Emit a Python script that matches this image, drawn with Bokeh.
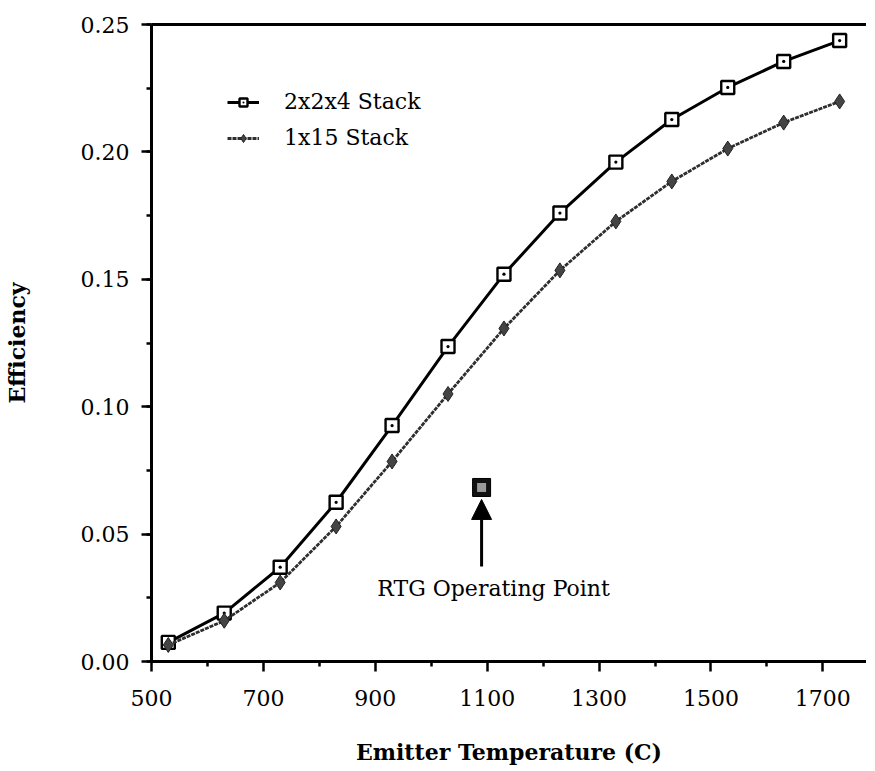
from bokeh.plotting import figure
from bokeh.models import (Range1d, FixedTicker, SingleIntervalTicker, PrintfTickFormatter,
                          LinearAxis, Legend, LegendItem, Arrow, NormalHead, Label)
from bokeh.embed import file_html
from bokeh.resources import INLINE

# ---- data ----
temps = [530, 630, 730, 830, 930, 1030, 1130, 1230, 1330, 1430, 1530, 1630, 1730]
eff_2x2x4 = [0.0075, 0.019, 0.037, 0.0625, 0.0926, 0.1236, 0.152, 0.176, 0.196, 0.2127, 0.2253, 0.2355, 0.2437]
eff_1x15 = [0.0065, 0.016, 0.031, 0.053, 0.0785, 0.105, 0.1307, 0.1535, 0.1727, 0.1884, 0.2013, 0.2115, 0.2198]
rtg_temp = [1090]
rtg_eff = [0.0683]
x_major_ticks = [500, 700, 900, 1100, 1300, 1500, 1700]
x_minor_ticks = [600, 800, 1000, 1200, 1400, 1600]
series_labels = ["2x2x4 Stack", "1x15 Stack"]
annotation_text = "RTG Operating Point"

FONT = "DejaVu Serif"

p = figure(frame_width=715, frame_height=637, output_backend="svg", toolbar_location=None,
           x_range=Range1d(500, 1778), y_range=Range1d(0, 0.25),
           min_border_left=0, min_border_top=24, min_border_bottom=0, min_border_right=0,
           background_fill_color="white", border_fill_color="white")
p.outline_line_color = None
p.grid.visible = False

l1 = p.line(temps, eff_2x2x4, line_color="black", line_width=3)
s1 = p.scatter(temps, eff_2x2x4, marker="square_dot", size=13, fill_color="white",
               line_color="black", line_width=2.4)
l2 = p.line(temps, eff_1x15, line_color="#2e2e2e", line_width=2.8, line_dash="4 1")
s2 = p.scatter(temps, eff_1x15, marker="diamond", size=15, fill_color="#444444",
               line_color="#222222", line_width=1)

# RTG operating point
p.scatter(rtg_temp, rtg_eff, marker="square", size=18, fill_color="#111111", line_color="black")
p.scatter(rtg_temp, rtg_eff, marker="square", size=9, fill_color="#9a9a9a", line_color=None)

arrow_tail = rtg_eff[0] - 0.0310
arrow_tip = rtg_eff[0] - 0.0047
p.add_layout(Arrow(end=NormalHead(size=20, fill_color="black", line_color="black"),
                   x_start=rtg_temp[0], y_start=arrow_tail, x_end=rtg_temp[0], y_end=arrow_tip,
                   line_color="black", line_width=3))
p.add_layout(Label(x=rtg_temp[0], y=rtg_eff[0] - 0.0396, text=annotation_text, x_offset=12,
                   text_align="center", text_baseline="middle", text_font=FONT,
                   text_font_size="22px", text_color="black"))

# axes
xa = p.xaxis[0]
xa.ticker = FixedTicker(ticks=x_major_ticks, minor_ticks=x_minor_ticks)
xa.axis_label = "Emitter Temperature (C)"
ya = p.yaxis[0]
ya.ticker = SingleIntervalTicker(interval=0.05, num_minor_ticks=2)
ya.formatter = PrintfTickFormatter(format="%.2f")
ya.axis_label = "Efficiency"
for ax in (xa, ya):
    ax.axis_line_width = 3
    ax.axis_line_color = "black"
    ax.major_tick_line_width = 2.5
    ax.minor_tick_line_width = 2.5
    ax.major_tick_in = 0
    ax.minor_tick_in = 0
    ax.major_tick_out = 10
    ax.minor_tick_out = 5
    ax.major_label_text_font = FONT
    ax.major_label_text_font_size = "22px"
    ax.major_label_text_color = "black"
    ax.axis_label_text_font = FONT
    ax.axis_label_text_font_style = "bold"
    ax.axis_label_text_font_size = "22px"
    ax.axis_label_text_color = "black"
xa.major_label_standoff = 18
xa.axis_label_standoff = 30
ya.major_label_standoff = 12
ya.axis_label_standoff = 48

top = LinearAxis(ticker=FixedTicker(ticks=[]), axis_line_width=3, axis_line_color="black",
                 major_tick_line_color=None, minor_tick_line_color=None,
                 major_label_standoff=0, major_tick_out=0, major_tick_in=0)
p.add_layout(top, "above")

legend = Legend(items=[LegendItem(label=series_labels[0], renderers=[l1, s1]),
                       LegendItem(label=series_labels[1], renderers=[l2, s2])],
                location=(76, 511), orientation="vertical",
                border_line_color=None, background_fill_alpha=0,
                label_text_font=FONT, label_text_font_size="22px", label_text_color="black",
                glyph_width=32, glyph_height=20, label_height=20, spacing=11,
                label_standoff=25, padding=0, margin=0)
p.add_layout(legend)

open("out.html", "w").write(file_html(p, INLINE))
